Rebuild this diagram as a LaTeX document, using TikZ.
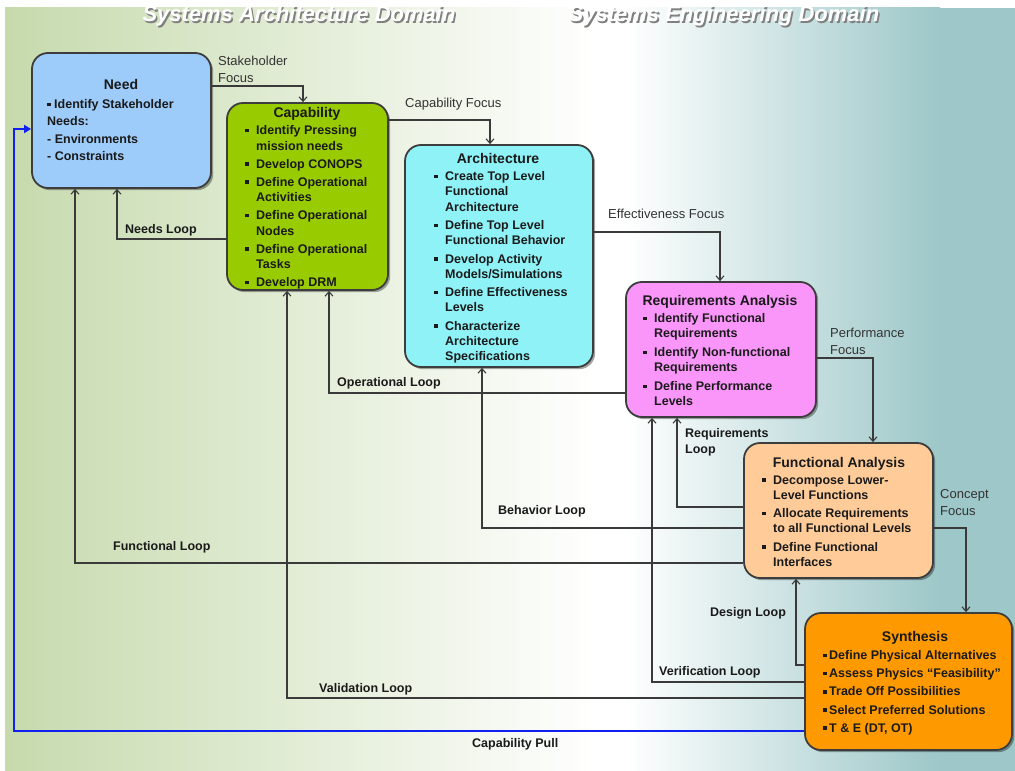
\documentclass[tikz,border=0pt]{standalone}
\usepackage{fontspec}
\setmainfont{Liberation Sans}
\usetikzlibrary{arrows.meta,shadows}
\definecolor{needc}{HTML}{9DCCFB}
\definecolor{capc}{HTML}{99CC00}
\definecolor{archc}{HTML}{8EF2F7}
\definecolor{reqc}{HTML}{FA96FA}
\definecolor{fac}{HTML}{FFCC99}
\definecolor{sync}{HTML}{FF9900}
\definecolor{edgec}{HTML}{3D3D3D}
\definecolor{linec}{HTML}{3A3A3A}
\definecolor{txtc}{HTML}{1A1A1A}
\definecolor{lblc}{HTML}{333333}
\definecolor{bgg}{HTML}{C6DAAD}
\definecolor{bgt}{HTML}{9DC7C8}
\definecolor{pullc}{HTML}{1020F0}
\newcommand\sqb[1]{\makebox[#1][l]{\raisebox{2.3bp}{\rule{3.6bp}{3.6bp}}}}
\newcommand\ind{\hspace*{11bp}}
\begin{document}
\begin{tikzpicture}[x=1bp,y=-1bp,
  box/.style={rectangle,rounded corners=16bp,draw=edgec,line width=1.8bp,inner sep=0pt,
    drop shadow={shadow xshift=2.2bp,shadow yshift=-2.2bp,fill=black,opacity=0.35}},
  ttl/.style={anchor=base,inner sep=0pt,text=txtc,font=\fontsize{14bp}{16bp}\selectfont\bfseries},
  body/.style={anchor=north west,inner sep=0pt,align=left,text=txtc,font=\fontsize{12.5bp}{#1}\selectfont\bfseries},
  lbl/.style={inner sep=0pt,align=left,text=lblc,font=\fontsize{13bp}{17bp}\selectfont},
  looplbl/.style={inner sep=0pt,align=left,text=txtc,font=\fontsize{12.5bp}{16bp}\selectfont\bfseries},
  conn/.style={draw=linec,line width=1.3bp,-{Straight Barb[length=4.5bp,width=8bp,line width=1.1bp]}},
  pull/.style={draw=pullc,line width=2.8bp,-{Triangle[length=7bp,width=8bp]}},
  dom/.style={inner sep=0pt,anchor=base,font=\fontsize{22bp}{24bp}\selectfont\bfseries\itshape}
]
\useasboundingbox (0,0) rectangle (1015,771);
% background
\fill[white] (0,0) rectangle (1015,771);
\shade[left color=bgg,right color=white] (5,8) rectangle (595,771);
\fill[white] (594,8) rectangle (626,771);
\shade[left color=white,right color=bgt] (625,8) rectangle (940,771);
\fill[bgt] (939,8) rectangle (1015,771);
% domain titles
\node[dom,text=black!50] at (300.6,23.6) {Systems Architecture Domain};
\node[dom,text=white] (domA) at (299,22) {Systems Architecture Domain};
\node[dom,text=black!50] at (725.6,23.6) {Systems Engineering Domain};
\node[dom,text=white] (domE) at (724,22) {Systems Engineering Domain};
% boxes
\node[box,fill=needc,minimum width=179bp,minimum height=135bp] (need) at (121.5,120.5) {};
\node[box,fill=capc,minimum width=161bp,minimum height=187bp] (cap) at (307.5,196.5) {};
\node[box,fill=archc,minimum width=188bp,minimum height=222bp] (arch) at (499,256) {};
\node[box,fill=reqc,minimum width=190bp,minimum height=135bp] (req) at (721,349.5) {};
\node[box,fill=fac,minimum width=189bp,minimum height=135bp] (fa) at (838.5,510.5) {};
\node[box,fill=sync,minimum width=207bp,minimum height=137bp] (syn) at (908.5,681.5) {};
% box titles
\node[ttl] (needT) at (121,90) {Need};
\node[ttl] (capT) at (307,117) {Capability};
\node[ttl] (archT) at (498,163) {Architecture};
\node[ttl] (reqT) at (720,305) {Requirements Analysis};
\node[ttl] (faT) at (839,467) {Functional Analysis};
\node[ttl] (synT) at (915,641) {Synthesis};
% box bodies
\node[body=17.3bp] (needB) at (47,99.3) {\sqb{7bp}Identify Stakeholder\\Needs:\\- Environments\\- Constraints};
\node[body=15.5bp] (capB) at (245,125.3) {\sqb{11bp}Identify Pressing\\\ind mission needs\\[2.5bp]
 \sqb{11bp}Develop CONOPS\\[2.5bp]
 \sqb{11bp}Define Operational\\\ind Activities\\[2.5bp]
 \sqb{11bp}Define Operational\\\ind Nodes\\[2.5bp]
 \sqb{11bp}Define Operational\\\ind Tasks\\[2.5bp]
 \sqb{11bp}Develop DRM};
\node[body=15.3bp] (archB) at (434,171.3) {\sqb{11bp}Create Top Level\\\ind Functional\\\ind Architecture\\[3bp]
 \sqb{11bp}Define Top Level\\\ind Functional Behavior\\[3bp]
 \sqb{11bp}Develop Activity\\\ind Models/Simulations\\[3bp]
 \sqb{11bp}Define Effectiveness\\\ind Levels\\[3bp]
 \sqb{11bp}Characterize\\\ind Architecture\\\ind Specifications};
\node[body=15bp] (reqB) at (643,313.3) {\sqb{11bp}Identify Functional\\\ind Requirements\\[4bp]
 \sqb{11bp}Identify Non-functional\\\ind Requirements\\[4bp]
 \sqb{11bp}Define Performance\\\ind Levels};
\node[body=15bp] (faB) at (762,475.3) {\sqb{11bp}Decompose Lower-\\\ind Level Functions\\[3.5bp]
 \sqb{11bp}Allocate Requirements\\\ind to all Functional Levels\\[3.5bp]
 \sqb{11bp}Define Functional\\\ind Interfaces};
\node[body=18.2bp] (synB) at (823,650.3) {\sqb{6bp}Define Physical Alternatives\\
 \sqb{6bp}Assess Physics “Feasibility”\\
 \sqb{6bp}Trade Off Possibilities\\
 \sqb{6bp}Select Preferred Solutions\\
 \sqb{6bp}T \& E (DT, OT)};
% focus connectors
\draw[conn] (need.east |- 0,86) -| (cap.north -| 303,0);
\draw[conn] (cap.east |- 0,120) -| (arch.north -| 490,0);
\draw[conn] (arch.east |- 0,232) -| (req.north -| 720,0);
\draw[conn] (req.east |- 0,358) -| (fa.north -| 873,0);
\draw[conn] (fa.east |- 0,528) -| (syn.north -| 966,0);
% loops
\draw[conn] (cap.west |- 0,239) -| (need.south -| 117,0);
\draw[conn] (fa.west |- 0,563) -| (need.south -| 75,0);
\draw[conn] (req.west |- 0,393) -| (cap.south -| 329,0);
\draw[conn] (syn.west |- 0,698) -| (cap.south -| 287,0);
\draw[conn] (fa.west |- 0,528) -| (arch.south -| 482,0);
\draw[conn] (fa.west |- 0,507) -| (req.south -| 677,0);
\draw[conn] (syn.west |- 0,682) -| (req.south -| 652,0);
\draw[conn] (syn.west |- 0,665) -| (fa.south -| 796,0);
\coordinate (pc) at (14,129);
\draw[pull] (syn.west |- 0,731) -| (pc) -- (need.west |- pc);
% focus labels
\node[lbl,anchor=north west] (l1) at (218,56.3) {Stakeholder\\Focus};
\node[lbl,anchor=base west] (l2) at (405,107.7) {Capability Focus};
\node[lbl,anchor=base west] (l3) at (608,218.7) {Effectiveness Focus};
\node[lbl,anchor=north west] (l4) at (830,328.3) {Performance\\Focus};
\node[lbl,anchor=north west] (l5) at (940,489.3) {Concept\\Focus};
% loop labels
\node[looplbl,anchor=base west] (n1) at (125,233.5) {Needs Loop};
\node[looplbl,anchor=base west] (n2) at (113,550.5) {Functional Loop};
\node[looplbl,anchor=base west] (n3) at (337,386.5) {Operational Loop};
\node[looplbl,anchor=base west] (n4) at (319,692.5) {Validation Loop};
\node[looplbl,anchor=base west] (n5) at (498,514.5) {Behavior Loop};
\node[looplbl,anchor=north west] (n6) at (685,428.4) {Requirements\\Loop};
\node[looplbl,anchor=base west] (n7) at (659,675.5) {Verification Loop};
\node[looplbl,anchor=base west] (n8) at (710,616.5) {Design Loop};
\node[looplbl,anchor=base west] (n9) at (472,747.5) {Capability Pull};
\end{tikzpicture}
\end{document}
